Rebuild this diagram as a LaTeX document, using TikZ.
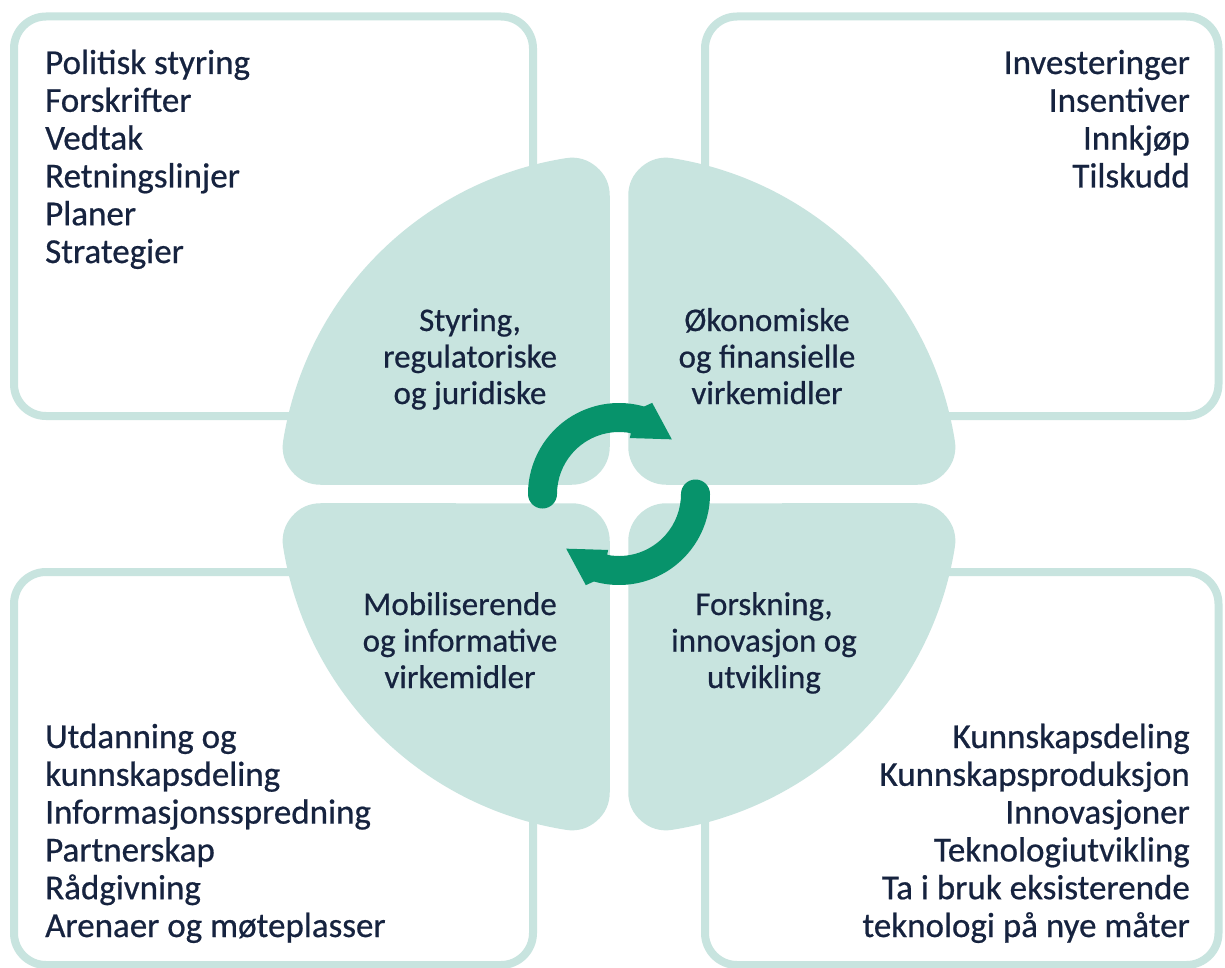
\documentclass[tikz,border=0pt]{standalone}
\usepackage{fontspec}
\setmainfont{Carlito}[FakeBold=0.6]
\definecolor{teal1}{HTML}{C8E4DF}
\definecolor{navy}{HTML}{16233F}
\definecolor{arrowgreen}{HTML}{07936B}
\begin{document}
\begin{tikzpicture}[x=1pt,y=-1pt,
  boxst/.style={draw=teal1, line width=8pt, fill=white, rounded corners=32pt},
  quadst/.style={fill=teal1, draw=teal1, line width=76pt, line join=round},
  arrowst/.style={fill=arrowgreen},
  listl/.style={anchor=base west, align=left, inner sep=0pt, text=navy, font=\fontsize{35}{37.8}\selectfont},
  listr/.style={anchor=base east, align=right, inner sep=0pt, text=navy, font=\fontsize{35}{37.8}\selectfont},
  lab/.style={anchor=base, align=center, inner sep=0pt, text=navy, font=\fontsize{33}{36.5}\selectfont}]
\useasboundingbox (0,0) rectangle (1225,968);
\fill[white] (0,0) rectangle (1225,968);
% outer boxes
\draw[boxst] (14,16.5) rectangle (533,416);
\draw[boxst] (705,16.5) rectangle (1218.5,416);
\draw[boxst] (14,572) rectangle (533,965);
\draw[boxst] (705,572) rectangle (1218.5,965);
% quadrants and arrows
\begin{scope}[shift={(619,494)}]
  \foreach \sx/\sy in {1/1,-1/1,1/-1,-1/-1}
    \path[quadst, xscale=\sx, yscale=\sy] (-47.25,-47.25) -- (-47.25,-298.28)
      arc[start angle=261, end angle=189, radius=302] -- cycle;
  \foreach \rot in {0,180}
    \fill[arrowst, rotate=\rot] (180:91) arc[start angle=180, end angle=286, radius=91]
      -- (290:97) -- (314:76) -- (281:57) -- (281:62)
      arc[start angle=281, end angle=180, radius=62]
      arc[start angle=0, end angle=180, radius=14.5] -- cycle;
\end{scope}
% texts (base anchor = baseline of the last line)
\node[listl] (tl) at (45,263) {Politisk styring\\Forskrifter\\Vedtak\\Retningslinjer\\Planer\\Strategier};
\node[listr] (tr) at (1190,187.4) {Investeringer\\Insentiver\\Innkjøp\\Tilskudd};
\node[listl] (bl) at (45,937) {Utdanning og\\kunnskapsdeling\\Informasjonsspredning\\Partnerskap\\Rådgivning\\Arenaer og møteplasser};
\node[listr] (br) at (1190,937) {Kunnskapsdeling\\Kunnskapsproduksjon\\Innovasjoner\\Teknologiutvikling\\Ta i bruk eksisterende\\teknologi på nye måter};
\node[lab] (q1) at (470,404) {Styring,\\regulatoriske\\og juridiske};
\node[lab] (q2) at (767,404) {Økonomiske\\og finansielle\\virkemidler};
\node[lab] (q3) at (460,688) {Mobiliserende\\og informative\\virkemidler};
\node[lab] (q4) at (764,688) {Forskning,\\innovasjon og\\utvikling};
\end{tikzpicture}
\end{document}
